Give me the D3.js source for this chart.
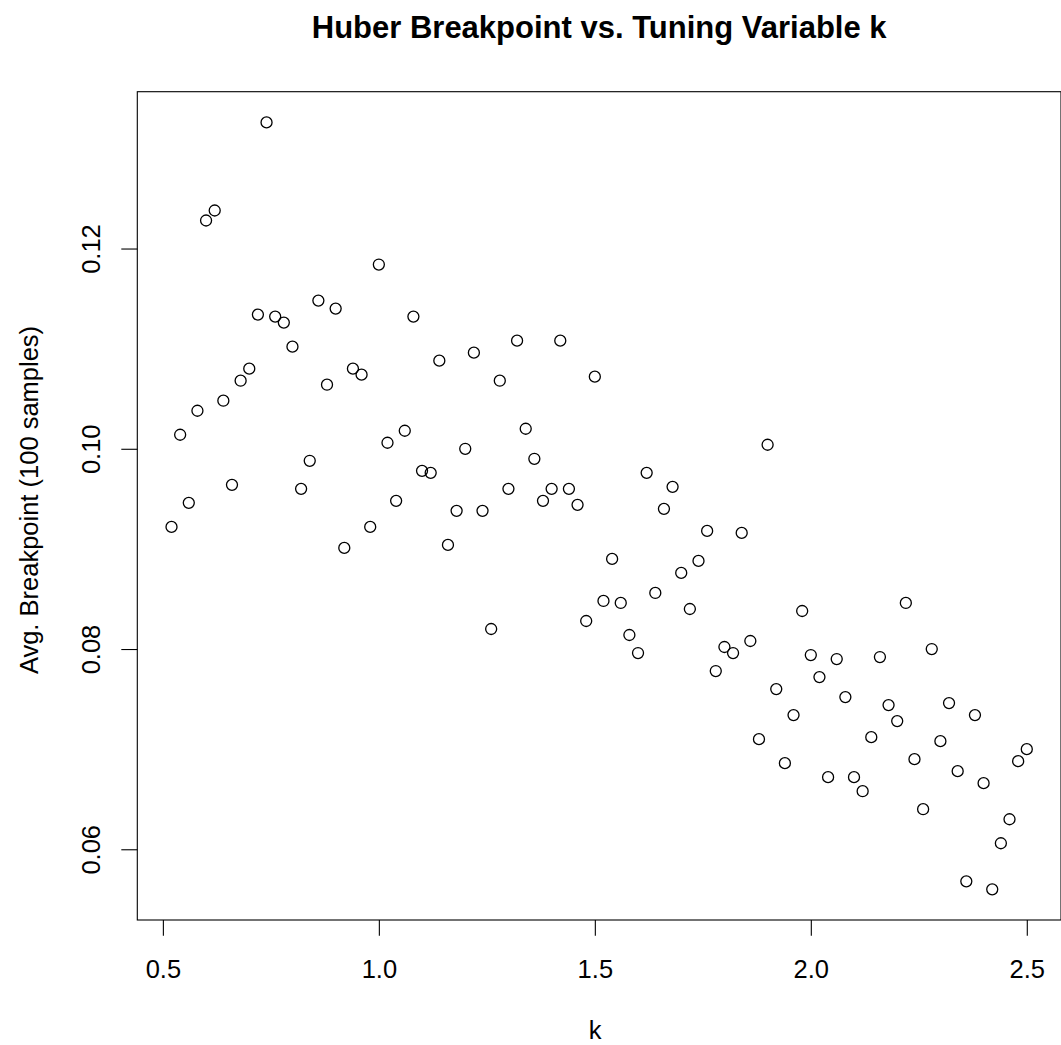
<!DOCTYPE html>
<html>
<head>
<meta charset="utf-8">
<script src="https://cdn.jsdelivr.net/npm/d3@7"></script>
<style>
    body { margin: 0; background: #fff; }
    svg { display: block; font-family: 'Liberation Sans', Arial, Helvetica, sans-serif; }
</style>
</head>
<body>
<svg id="chart" width="1061" height="1045"></svg>
<script>
// tuning variable k (x) and average breakpoint over 100 samples (y)
const kValues = [
    0.52, 0.54, 0.56, 0.58, 0.60, 0.62, 0.64, 0.66, 0.68, 0.70,
    0.72, 0.74, 0.76, 0.78, 0.80, 0.82, 0.84, 0.86, 0.88, 0.90,
    0.92, 0.94, 0.96, 0.98, 1.00, 1.02, 1.04, 1.06, 1.08, 1.10,
    1.12, 1.14, 1.16, 1.18, 1.20, 1.22, 1.24, 1.26, 1.28, 1.30,
    1.32, 1.34, 1.36, 1.38, 1.40, 1.42, 1.44, 1.46, 1.48, 1.50,
    1.52, 1.54, 1.56, 1.58, 1.60, 1.62, 1.64, 1.66, 1.68, 1.70,
    1.72, 1.74, 1.76, 1.78, 1.80, 1.82, 1.84, 1.86, 1.88, 1.90,
    1.92, 1.94, 1.96, 1.98, 2.00, 2.02, 2.04, 2.06, 2.08, 2.10,
    2.12, 2.14, 2.16, 2.18, 2.20, 2.22, 2.24, 2.26, 2.28, 2.30,
    2.32, 2.34, 2.36, 2.38, 2.40, 2.42, 2.44, 2.46, 2.48, 2.50
];

const breakpoints = [
    0.0922, 0.1014, 0.0946, 0.1038, 0.1228, 0.1238, 0.1048, 0.0964, 0.1068, 0.1080,
    0.1134, 0.1326, 0.1132, 0.1126, 0.1102, 0.0960, 0.0988, 0.1148, 0.1064, 0.1140,
    0.0901, 0.1080, 0.1074, 0.0922, 0.1184, 0.1006, 0.0948, 0.1018, 0.1132, 0.0978,
    0.0976, 0.1088, 0.0904, 0.0938, 0.1000, 0.1096, 0.0938, 0.0820, 0.1068, 0.0960,
    0.1108, 0.1020, 0.0990, 0.0948, 0.0960, 0.1108, 0.0960, 0.0944, 0.0828, 0.1072,
    0.0848, 0.0890, 0.0846, 0.0814, 0.0796, 0.0976, 0.0856, 0.0940, 0.0962, 0.0876,
    0.0840, 0.0888, 0.0918, 0.0778, 0.0802, 0.0796, 0.0916, 0.0808, 0.0710, 0.1004,
    0.0760, 0.0686, 0.0734, 0.0838, 0.0794, 0.0772, 0.0672, 0.0790, 0.0752, 0.0672,
    0.0658, 0.0712, 0.0792, 0.0744, 0.0728, 0.0846, 0.0690, 0.0640, 0.0800, 0.0708,
    0.0746, 0.0678, 0.0568, 0.0734, 0.0666, 0.0560, 0.0606, 0.0630, 0.0688, 0.0700
];

const xTicks = [0.5, 1.0, 1.5, 2.0, 2.5];
const yTicks = [0.06, 0.08, 0.10, 0.12];

const titleText = 'Huber Breakpoint vs. Tuning Variable k';
const xLabel = 'k';
const yLabel = 'Avg. Breakpoint (100 samples)';

const svg = d3.select('#chart');

// plot region (like R's default, with 4% padding on the data range)
const plotLeft = 137.3, plotRight = 1061, plotTop = 91.7, plotBottom = 920;

function padded(values) {
    const ext = d3.extent(values);
    const pad = (ext[1] - ext[0]) * 0.04;
    return [ext[0] - pad, ext[1] + pad];
}

const x = d3.scaleLinear().domain(padded(kValues)).range([plotLeft, plotRight]);
const y = d3.scaleLinear().domain(padded(breakpoints)).range([plotBottom, plotTop]);

const data = kValues.map((k, i) => ({k: k, v: breakpoints[i]}));

// box around the plot
svg.append('rect')
    .attr('x', plotLeft)
    .attr('y', plotTop)
    .attr('width', plotRight - plotLeft)
    .attr('height', plotBottom - plotTop)
    .attr('fill', 'none')
    .attr('stroke', '#000')
    .attr('stroke-width', 1.1);

// x axis
const xAxis = svg.append('g')
    .attr('transform', 'translate(0,' + plotBottom + ')')
    .call(d3.axisBottom(x)
        .tickValues(xTicks)
        .tickFormat(d3.format('.1f'))
        .tickSizeOuter(0)
        .tickSize(15.7)
        .tickPadding(24.5));
xAxis.select('.domain').remove();
xAxis.selectAll('line').attr('stroke', '#000').attr('stroke-width', 1.1);
xAxis.selectAll('text')
    .attr('fill', '#000')
    .style('font-size', '25.5px');
xAxis.attr('font-family', null);

// y axis, labels turned to run along the axis
const yAxis = svg.append('g')
    .attr('transform', 'translate(' + plotLeft + ',0)')
    .call(d3.axisLeft(y)
        .tickValues(yTicks)
        .tickFormat(d3.format('.2f'))
        .tickSizeOuter(0)
        .tickSize(16));
yAxis.select('.domain').remove();
yAxis.selectAll('line').attr('stroke', '#000').attr('stroke-width', 1.1);
yAxis.selectAll('text')
    .attr('fill', '#000')
    .attr('transform', 'rotate(-90)')
    .attr('x', 0)
    .attr('y', -37.3)
    .attr('dy', null)
    .attr('text-anchor', 'middle')
    .style('font-size', '25.5px');
yAxis.attr('font-family', null);

// points (open circles, like pch = 1)
svg.append('g')
    .selectAll('circle')
    .data(data)
    .enter()
    .append('circle')
    .attr('cx', d => x(d.k))
    .attr('cy', d => y(d.v))
    .attr('r', 5.5)
    .attr('fill', 'none')
    .attr('stroke', '#000')
    .attr('stroke-width', 1.3);

// titles
svg.append('text')
    .attr('x', (plotLeft + plotRight) / 2)
    .attr('y', 38)
    .attr('text-anchor', 'middle')
    .style('font-size', '31px')
    .style('font-weight', 'bold')
    .text(titleText);

svg.append('text')
    .attr('x', 595)
    .attr('y', 1039)
    .attr('text-anchor', 'middle')
    .style('font-size', '25.5px')
    .text(xLabel);

svg.append('text')
    .attr('transform', 'translate(38,' + 500 + ') rotate(-90)')
    .attr('text-anchor', 'middle')
    .style('font-size', '25.5px')
    .text(yLabel);
</script>
</body>
</html>
